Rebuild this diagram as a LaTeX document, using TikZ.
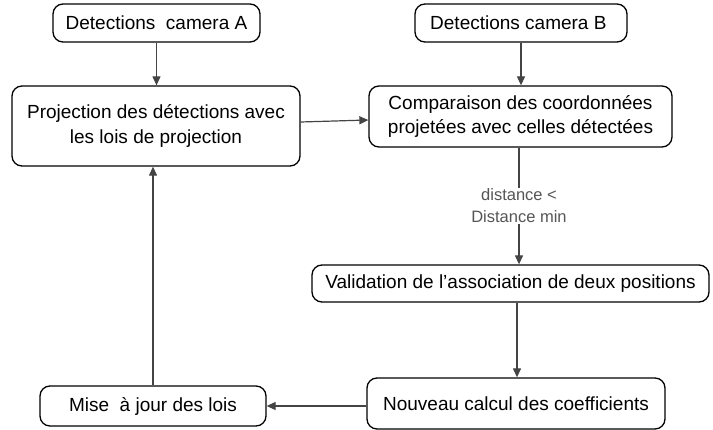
\documentclass[tikz,border=0pt]{standalone}
\usepackage{fontspec}
\setmainfont{Liberation Sans}
\usetikzlibrary{arrows.meta}
\definecolor{edgegrey}{HTML}{444444}
\definecolor{labelgrey}{HTML}{555555}
\tikzset{
  box/.style={draw=black, line width=1.3pt, rounded corners=10pt, align=center,
    inner sep=0pt, font=\fontsize{19}{24.5}\selectfont},
  conn/.style={draw=edgegrey, line width=1.2pt, -{Triangle[length=9pt,width=8pt]}},
  lab/.style={fill=white, text=labelgrey, align=center, inner sep=1pt,
    font=\fontsize{16.5}{22}\selectfont}
}
\begin{document}
\begin{tikzpicture}[x=1pt,y=-1pt]
\useasboundingbox (0,0) rectangle (713,430);
\node[box, minimum width=207pt, minimum height=38pt] (A) at (156.5,23) {Detections\ \ camera A};
\node[box, minimum width=288pt, minimum height=80pt] (P) at (156,126) {Projection des détections avec\\les lois de projection};
\node[box, minimum width=212pt, minimum height=38pt] (B) at (521,23) {Detections camera B\ };
\node[box, minimum width=303pt, minimum height=61pt] (C) at (520.5,116.5) {Comparaison des coordonnées\\projetées avec celles détectées};
\node[box, minimum width=397pt, minimum height=37pt] (V) at (510.5,283.5) {Validation de l’association de deux positions};
\node[box, minimum width=298pt, minimum height=51pt] (N) at (516,403.5) {Nouveau calcul des coefficients};
\node[box, minimum width=226pt, minimum height=40pt] (M) at (153,406) {Mise\ \ à jour des lois};

\draw[conn] (A.south) -- (A.south |- P.north);
\draw[conn] (B.south) -- (B.south |- C.north);
\draw[conn] ([yshift=4pt]P.east) -- ([yshift=-3.5pt]C.west);
\draw[conn] ([xshift=-1.5pt]C.south) -- node[lab, pos=0.5] {distance <\\Distance min} ([xshift=-1.5pt]C.south |- V.north);
\draw[conn] ([xshift=6.5pt]V.south) -- ([xshift=6.5pt]V.south |- N.north);
\draw[conn] ([yshift=-2.5pt]N.west) -- (M.east);
\draw[conn] (M.north) -- (M.north |- P.south);
\end{tikzpicture}
\end{document}
